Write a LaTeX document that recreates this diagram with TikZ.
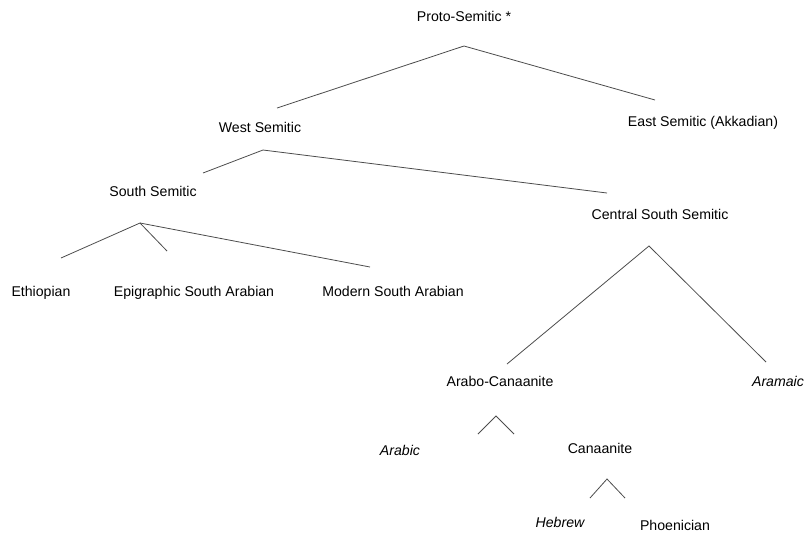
\documentclass[tikz,border=0pt]{standalone}
\usepackage{fontspec}
\setmainfont{Liberation Sans}
\usepackage{tikz}
\usetikzlibrary{calc}

\begin{document}
\begin{tikzpicture}[x=0.75pt, y=-0.75pt,
		every node/.style={font=\fontsize{10.6}{12}\selectfont, inner sep=0pt, anchor=base},
		lang/.style={font=\fontsize{10.6}{12}\selectfont\itshape},
		branch/.style={draw=black!70, line width=0.6pt}]
	\useasboundingbox (0,0) rectangle (806,533);

	\node (proto)    at (464,21.5) {Proto-Semitic *};
	\node (west)     at (260,132.5) {West Semitic};
	\node (east)     at (703,126.5) {East Semitic (Akkadian)};
	\node (south)    at (153,196.5) {South Semitic};
	\node (central)  at (660,219.5) {Central South Semitic};
	\node (ethiopian) at (41,296.5) {Ethiopian};
	\node (epigraph) at (194,296.5) {Epigraphic South Arabian};
	\node (modern)   at (393,296.5) {Modern South Arabian};
	\node (arabocan) at (500,386.5) {Arabo-Canaanite};
	\node[lang] (aramaic)  at (778,386.5) {Aramaic};
	\node[lang] (arabic)   at (400,455.5) {Arabic};
	\node (canaanite) at (600,453.5) {Canaanite};
	\node[lang] (hebrew)   at (560,527.5) {Hebrew};
	\node (phoenician) at (675,530.5) {Phoenician};

	% forks
	\coordinate (protofork)   at (464,46);
	\coordinate (protoleft)   at (277,108);
	\coordinate (protoright)  at (655,100);
	\coordinate (westfork)    at (263,150);
	\coordinate (westleft)    at (203,173);
	\coordinate (westright)   at (607,193);
	\coordinate (southfork)   at (140,223);
	\coordinate (southa)      at (61,258);
	\coordinate (southb)      at (167,251);
	\coordinate (southc)      at (370,267);
	\coordinate (centralfork) at (649,246);
	\coordinate (centralleft) at (507,364);
	\coordinate (centralright) at (766,362);
	\coordinate (arabofork)   at (496,416);
	\coordinate (araboleft)   at (478,434);
	\coordinate (araboright)  at (514,434);
	\coordinate (canfork)     at (607,479);
	\coordinate (canleft)     at (590,498);
	\coordinate (canright)    at (625,498);

	\draw[branch] (protoleft) -- (protofork) -- (protoright);
	\draw[branch] (westleft) -- (westfork) -- (westright);
	\draw[branch] (southa) -- (southfork) -- (southb);
	\draw[branch] (southfork) -- (southc);
	\draw[branch] (centralleft) -- (centralfork) -- (centralright);
	\draw[branch] (araboleft) -- (arabofork) -- (araboright);
	\draw[branch] (canleft) -- (canfork) -- (canright);
\end{tikzpicture}
\end{document}
